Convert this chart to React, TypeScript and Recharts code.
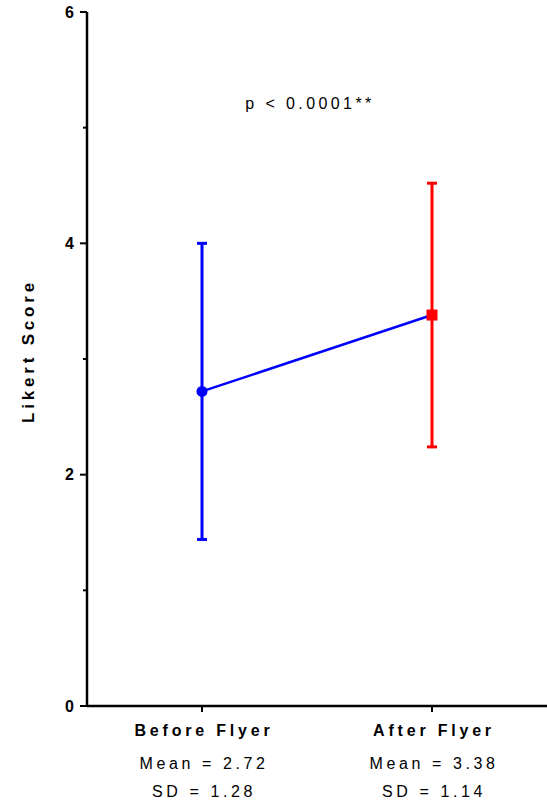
import { ComposedChart, Line, Scatter, ErrorBar, XAxis, YAxis, Label } from 'recharts';

const groups = ['Before Flyer', 'After Flyer'];
const means = [2.72, 3.38];
const sds = [1.28, 1.14];
const groupColors = ['#0000ff', '#ff0000'];
const yTicks = [0, 1, 2, 3, 4, 5, 6];
const pText = 'p < 0.0001**';

const lineData = groups.map((g, i) => ({ x: i, y: means[i] }));
const pointData = groups.map((g, i) => [{ x: i, y: means[i], err: sds[i] }]);

const FONT = '"Liberation Sans", Arial, sans-serif';

const YTick = (props: any) => {
  const { x, y, payload } = props;
  const v = payload.value;
  const major = v % 2 === 0;
  return (
    <g>
      <line x1={x - (major ? 7 : 4)} x2={x} y1={y} y2={y} stroke="#000" strokeWidth={2} />
      {major && (
        <text x={x - 13} y={y} dy="0.36em" textAnchor="end" fontFamily={FONT} fontWeight="bold" fontSize={16} fill="#000">
          {v}
        </text>
      )}
    </g>
  );
};

const XTick = (props: any) => {
  const { x, y, payload } = props;
  const i = payload.value;
  const txt = { fontFamily: FONT, fontSize: 16, fill: '#000', textAnchor: 'middle' as const, letterSpacing: 3.6 };
  return (
    <g>
      <text x={x + 2} y={736} {...txt} fontWeight="bold" letterSpacing={3.8}>{groups[i]}</text>
      <text x={x + 2} y={769} {...txt}>{`Mean = ${means[i].toFixed(2)}`}</text>
      <text x={x + 2} y={797} {...txt}>{`SD = ${sds[i].toFixed(2)}`}</text>
    </g>
  );
};

const circleShape = (p: any) => <circle cx={p.cx} cy={p.cy} r={5.5} fill={groupColors[0]} />;
const squareShape = (p: any) => <rect x={p.cx - 5.5} y={p.cy - 5.5} width={11} height={11} fill={groupColors[1]} />;

export default function App() {
  return (
    <div style={{ position: 'absolute', left: 0, top: 0, background: '#fff' }}>
      <ComposedChart
        width={547}
        height={801}
        data={lineData}
        margin={{ top: 12, right: 0, left: 0, bottom: 0 }}
      >
        <XAxis
          dataKey="x"
          type="number"
          domain={[-0.5, 1.5]}
          ticks={[0, 1]}
          height={95}
          axisLine={{ stroke: '#000', strokeWidth: 2.5 }}
          tickLine={{ stroke: '#000', strokeWidth: 2 }}
          tickSize={6}
          tick={<XTick />}
          allowDataOverflow
        />
        <YAxis
          type="number"
          domain={[0, 6]}
          ticks={yTicks}
          width={87}
          axisLine={{ stroke: '#000', strokeWidth: 2.5 }}
          tickLine={false}
          tickSize={0}
          tickMargin={0}
          tick={<YTick />}
          interval={0}
        >
          <Label
            content={() => (
              <text
                x={34}
                y={351}
                transform="rotate(-90 34 351)"
                textAnchor="middle"
                fontFamily={FONT}
                fontWeight="bold"
                fontSize={17}
                letterSpacing={3.8}
                fill="#000"
              >
                Likert Score
              </text>
            )}
          />
        </YAxis>
        <Line
          dataKey="y"
          stroke={groupColors[0]}
          strokeWidth={2.5}
          dot={false}
          activeDot={false}
          isAnimationActive={false}
        />
        <Scatter data={pointData[0]} dataKey="y" shape={circleShape} isAnimationActive={false}>
          <ErrorBar dataKey="err" direction="y" width={5} stroke={groupColors[0]} strokeWidth={3} isAnimationActive={false} />
        </Scatter>
        <Scatter data={pointData[1]} dataKey="y" shape={squareShape} isAnimationActive={false}>
          <ErrorBar dataKey="err" direction="y" width={5} stroke={groupColors[1]} strokeWidth={3} isAnimationActive={false} />
        </Scatter>
        <text x={310} y={109} textAnchor="middle" fontFamily={FONT} fontSize={16} letterSpacing={3.4} fill="#000">
          {pText}
        </text>
      </ComposedChart>
    </div>
  );
}
